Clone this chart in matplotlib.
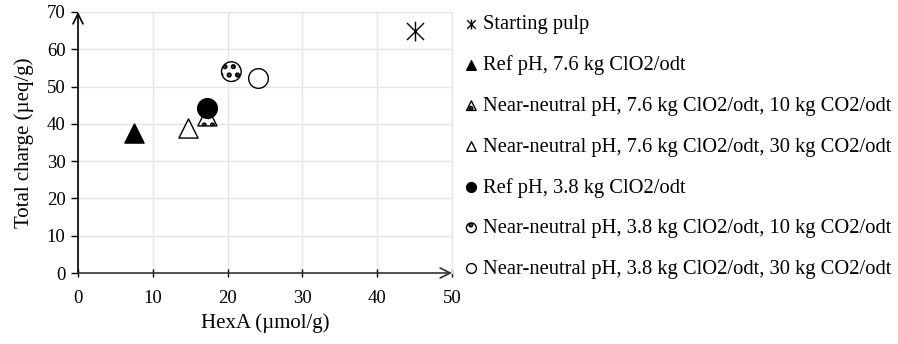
import matplotlib
matplotlib.use("Agg")
import matplotlib.pyplot as plt
from matplotlib.path import Path

plt.rcParams['font.family'] = ['Liberation Serif', 'DejaVu Serif']
plt.rcParams['hatch.linewidth'] = 2.5

# series: HexA (umol/g) vs total charge (ueq/g)
labels = [
    "Starting pulp",
    "Ref pH, 7.6 kg ClO2/odt",
    "Near-neutral pH, 7.6 kg ClO2/odt, 10 kg CO2/odt",
    "Near-neutral pH, 7.6 kg ClO2/odt, 30 kg CO2/odt",
    "Ref pH, 3.8 kg ClO2/odt",
    "Near-neutral pH, 3.8 kg ClO2/odt, 10 kg CO2/odt",
    "Near-neutral pH, 3.8 kg ClO2/odt, 30 kg CO2/odt",
]
hexa = [45.0, 7.5, 17.3, 14.7, 17.2, 20.5, 24.1]
charge = [65.0, 37.5, 42.0, 39.0, 44.3, 54.0, 52.3]

markers = ['star', '^', '^', '^', 'o', 'o', 'o']
faces = ['black', 'black', 'white', 'white', 'black', 'white', 'white']
hatches = [None, None, '..', None, None, '..', None]
sizes = [200, 190, 190, 190, 200, 200, 200]

# X with a vertical bar (excel style asterisk)
star = Path([(-1, -1), (1, 1), (-1, 1), (1, -1), (0, -1.15), (0, 1.15)],
            [Path.MOVETO, Path.LINETO, Path.MOVETO, Path.LINETO, Path.MOVETO, Path.LINETO])

fig = plt.figure(figsize=(8.98, 3.44), dpi=100)
ax = fig.add_axes([78/898, 71/344, 374/898, 261/344])

for i in range(len(labels)):
    if markers[i] == 'star':
        ax.scatter(hexa[i], charge[i], s=sizes[i], marker=star, color='black',
                   linewidths=1.0, label=labels[i], zorder=3)
    else:
        ax.scatter(hexa[i], charge[i], s=sizes[i], marker=markers[i], facecolor=faces[i],
                   edgecolor='black', linewidths=1.0, hatch=hatches[i], label=labels[i], zorder=3)

ax.set_xlim(0, 50)
ax.set_ylim(0, 70)
ax.set_xticks([0, 10, 20, 30, 40, 50])
ax.set_yticks([0, 10, 20, 30, 40, 50, 60, 70])
ax.grid(True, color='#e4e4e4', linewidth=1.0, zorder=0)
ax.set_axisbelow(True)
for s in ['top', 'right']:
    ax.spines[s].set_color('#e4e4e4')
for s in ['left', 'bottom']:
    ax.spines[s].set_visible(False)

# axis lines with open arrow heads
ax.annotate('', xy=(0, 1.0), xytext=(0, 0), xycoords='axes fraction',
            arrowprops=dict(arrowstyle='->', color='black', lw=1.2, mutation_scale=18,
                            shrinkA=0, shrinkB=0), annotation_clip=False)
ax.annotate('', xy=(1.0, 0), xytext=(0, 0), xycoords='axes fraction',
            arrowprops=dict(arrowstyle='->', color='#333333', lw=1.2, mutation_scale=18,
                            shrinkA=0, shrinkB=0), annotation_clip=False)

ax.tick_params(axis='y', direction='out', length=5, width=1, labelsize=13.5, pad=4)
ax.tick_params(axis='x', direction='inout', length=6, width=1, labelsize=13.5, pad=9)
ax.set_xlabel("HexA (\u00b5mol/g)", fontsize=15, labelpad=5)
ax.set_ylabel("Total charge (\u00b5eq/g)", fontsize=15, labelpad=9)

leg = ax.legend(loc='upper left', bbox_to_anchor=(1.005, 1.02), frameon=False,
                markerscale=0.5, handletextpad=0.1, handlelength=0.9,
                labelspacing=1.03, fontsize=14.8, borderaxespad=0)

fig.savefig("out.png", dpi=100)
